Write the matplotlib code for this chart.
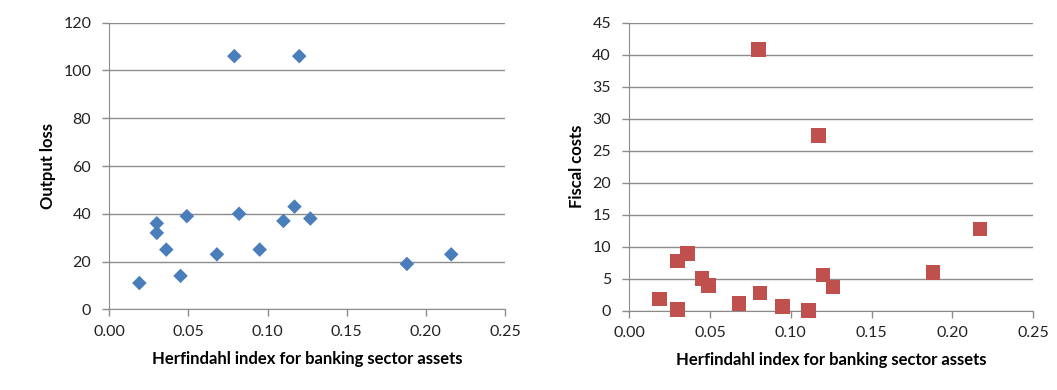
import matplotlib.pyplot as plt

plt.rcParams['font.family'] = ['Lato', 'DejaVu Sans']

# Herfindahl index vs output loss
hhi_loss = [0.019, 0.030, 0.030, 0.036, 0.045, 0.049, 0.068, 0.079,
            0.082, 0.095, 0.110, 0.117, 0.120, 0.127, 0.188, 0.216]
output_loss = [11, 36, 32, 25, 14, 39, 23, 106, 40, 25, 37, 43, 106, 38, 19, 23]

# Herfindahl index vs fiscal costs
hhi_fiscal = [0.019, 0.030, 0.030, 0.036, 0.045, 0.049, 0.068, 0.080,
              0.081, 0.095, 0.111, 0.117, 0.120, 0.126, 0.188, 0.217]
fiscal_costs = [1.8, 0.2, 7.8, 8.9, 5.0, 3.9, 1.1, 40.8,
                2.8, 0.7, 0.0, 27.4, 5.6, 3.7, 6.0, 12.8]

x_ticks = [0.00, 0.05, 0.10, 0.15, 0.20, 0.25]
xlabel = 'Herfindahl index for banking sector assets'

fig = plt.figure(figsize=(10.57, 3.90), dpi=100)
ax1 = fig.add_axes([0.1034, 0.2069, 0.3744, 0.7349])
ax2 = fig.add_axes([0.5951, 0.2033, 0.3825, 0.7385])


def style(ax, yticks, ylabel):
    ax.set_xlim(0, 0.25)
    ax.set_ylim(yticks[0], yticks[-1])
    ax.set_xticks(x_ticks)
    ax.set_xticklabels([f'{t:.2f}' for t in x_ticks])
    ax.set_yticks(yticks)
    ax.grid(axis='y', color='#8c8c8c', linewidth=1.0)
    ax.set_axisbelow(True)
    for side in ('top', 'right'):
        ax.spines[side].set_visible(False)
    for side in ('left', 'bottom'):
        ax.spines[side].set_color('#8c8c8c')
    ax.tick_params(axis='both', colors='#8c8c8c', labelcolor='#222222',
                   labelsize=11.5, length=5, width=1.0)
    ax.tick_params(axis='y', pad=8)
    ax.tick_params(axis='x', pad=6)
    ax.set_xlabel(xlabel, fontsize=12, fontweight='bold', labelpad=9)
    ax.set_ylabel(ylabel, fontsize=12, fontweight='bold', labelpad=5)


ax1.scatter(hhi_loss, output_loss, marker='D', s=55, color='#4a7ebb',
            edgecolors='none', zorder=3, clip_on=False)
style(ax1, [0, 20, 40, 60, 80, 100, 120], 'Output loss')

ax2.scatter(hhi_fiscal, fiscal_costs, marker='s', s=110, color='#c0504d',
            edgecolors='none', zorder=3, clip_on=False)
style(ax2, [0, 5, 10, 15, 20, 25, 30, 35, 40, 45], 'Fiscal costs')

fig.savefig('out.png', dpi=100)
